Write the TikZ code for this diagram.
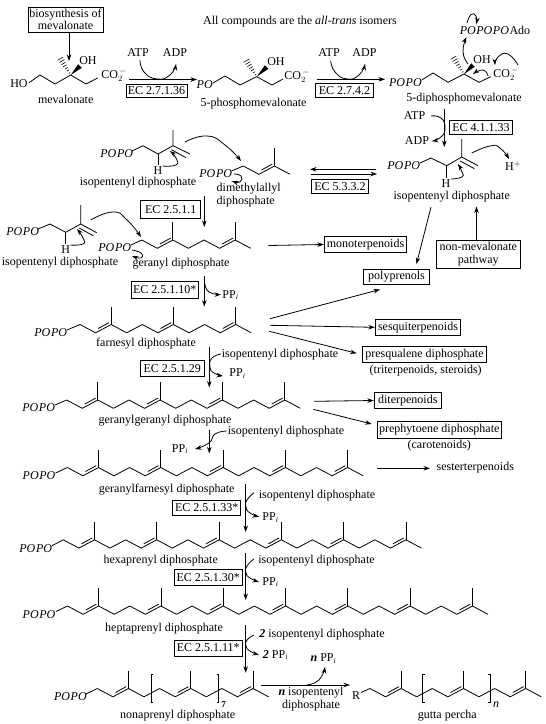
\documentclass[tikz,border=0pt]{standalone}
\usepackage{fontspec}
\setmainfont{Liberation Serif}
\usetikzlibrary{arrows.meta,calc}
\newcommand\PO{\textit{PO}\kern0.6pt}
\newcommand\PPi{PP$_{\mathit{i}}$}
\newcommand\chem[1]{\textbf{\textit{#1}}}
% isoprene chain: first high point x,y ; number of units
\newcommand\chain[3]{%
  \foreach \k in {1,...,#3}{%
    \pgfmathsetmacro\bx{#1+(\k-1)*62.3}%
    \pgfmathsetmacro\ax{\bx+15.6}\pgfmathsetmacro\cx{\bx+31.15}\pgfmathsetmacro\dx{\bx+46.7}\pgfmathsetmacro\ex{\bx+62.3}%
    \pgfmathsetmacro\yl{#2+8.3}\pgfmathsetmacro\yt{#2-18}\pgfmathsetmacro\yi{#2-1.9}\pgfmathsetmacro\yj{#2+4.0}%
    \pgfmathsetmacro\ia{\ax+2.6}\pgfmathsetmacro\ib{\cx-2.2}%
    \draw[bond] (\bx,#2) -- (\ax,\yl) -- (\cx,#2) -- (\dx,\yl);
    \draw[bond] (\cx,#2) -- (\cx,\yt);
    \draw[bond] (\ia,\yj) -- (\ib,\yi);
    \ifnum\k<#3 \draw[bond] (\dx,\yl) -- (\ex,#2);\fi
  }}
\newcommand\wdg[4]{\fill (#1,#2) -- ($(#3,#4)+(1.8,1.8)$) -- ($(#3,#4)+(-1.8,-1.8)$) -- cycle;}
\newcommand\hashbond[4]{%
  \foreach \t in {0.12,0.26,0.40,0.54,0.68,0.82,0.96}{%
    \pgfmathsetmacro\hx{#1+\t*(#3-#1)}\pgfmathsetmacro\hy{#2+\t*(#4-#2)}%
    \pgfmathsetmacro\wd{0.4+2.4*\t}%
    \draw[line width=.6pt] (\hx-\wd,\hy+\wd*0.6) -- (\hx+\wd,\hy-\wd*0.6);
  }}
\newcommand\link[3]{\coordinate (#1a) at (#2); \coordinate (#1b) at (#3); \draw[arr] (#1a) -- (#1b);}
\newcommand\curv[1]{\draw[arr] plot[smooth,tension=0.9] coordinates {#1};}
\newcommand\lbl[4]{\node[lab] (#1) at (#2,#3) {#4};}
\newcommand\tbox[6]{\node[boxn,minimum width=#4pt,minimum height=#5pt] (#1) at (#2,#3) {#6};}
\tikzset{
  bond/.style={line width=.8pt},
  arr/.style={line width=.8pt,-{Stealth[length=6.5pt,width=4.5pt]}},
  lab/.style={inner sep=0pt,align=center,font=\fontsize{12}{14}\selectfont},
  boxn/.style={draw,line width=.9pt,inner sep=0pt,align=center,font=\fontsize{12}{14}\selectfont},
}
\begin{document}
\begin{tikzpicture}[x=1pt,y=-1pt]
\useasboundingbox[fill=white] (0,0) rectangle (546,724);
% ---- header
\lbl{allc}{300}{22}{All compounds are the \textit{all-trans} isomers}
\tbox{bio}{65.5}{19.5}{75}{25}{biosynthesis of\\[-2pt]mevalonate}
\draw[arr] (bio.south -| 69,0) -- (69,61);
% ---- mevalonate
\lbl{ho}{19}{83.5}{HO}
\draw[bond] (29,82.7) -- (40,75) -- (55,84) -- (70.7,75) -- (86,84) -- (97.7,78);
\wdg{70.7}{75}{80}{66}
\hashbond{70.7}{75}{60}{58}
\lbl{oh1}{88}{61}{OH}
\lbl{co1}{114}{75}{CO$_2^{\,-}$}
\lbl{mev}{65.7}{99}{mevalonate}
% step 1
\lbl{atp1}{138}{53}{ATP}
\lbl{adp1}{175}{53}{ADP}
\link{s1}{129,79.5}{197,79.5}
\curv{(140,60) (144,72) (157,79) (170,75) (176,64)}
\tbox{ec1}{156.5}{91}{61}{12.5}{EC 2.7.1.36}
% 5-phosphomevalonate
\lbl{po1}{205}{85}{\PO}
\draw[bond] (213,83) -- (225,76) -- (240,85) -- (256.7,76.7) -- (272,85) -- (283,79);
\wdg{256.7}{76.7}{266.7}{67}
\hashbond{256.7}{76.7}{246}{60}
\lbl{oh2}{276}{62}{OH}
\lbl{co2}{297}{76}{CO$_2^{\,-}$}
\lbl{pmev}{253.5}{104}{5-phosphomevalonate}
% step 2
\lbl{atp2}{329}{53}{ATP}
\lbl{adp2}{364.5}{53}{ADP}
\link{s2}{316.7,79.3}{385,79.3}
\curv{(330.7,60.7) (335,72) (347,79) (359,75) (365,64)}
\tbox{ec2}{344.5}{90.5}{57.5}{14.5}{EC 2.7.4.2}
% 5-diphosphomevalonate
\lbl{pp3}{405.7}{82.5}{\PO\PO}
\draw[bond] (421.7,80) -- (433,73) -- (448,82.3) -- (464,74) -- (479,82.3) -- (490.7,76.7);
\wdg{464}{74}{473}{65}
\hashbond{464}{74}{453}{57}
\lbl{oh3}{482}{60}{OH}
\lbl{co3}{506}{74}{CO$_2^{\,-}$}
\lbl{dmev}{464}{99}{5-diphosphomevalonate}
\lbl{atpx}{495}{30}{\PO\PO\PO Ado}
\curv{(468,64) (463,52) (466.5,37)}
\curv{(467,23) (471,14.5) (476,16) (476.5,24)}
\curv{(518,65) (508,54) (498,57) (495,65)}
\curv{(488,76) (483,70) (473,74)}
% decarboxylation
\link{s3}{444.3,109}{444.3,147}
\lbl{atp3}{414.5}{116}{ATP}
\lbl{adp3}{417}{141}{ADP}
\curv{(431,116) (441,118) (445,128) (441,137) (432,141)}
\tbox{ec3}{481}{127.7}{63.4}{14}{EC 4.1.1.33}
% isopentenyl right
\lbl{pp4}{404}{166}{\PO\PO}
\draw[bond] (420,163) -- (431,158) -- (446.7,165.7) -- (461.7,157) -- (461.7,139);
\draw[bond] (461.7,157) -- (478,165.7);
\draw[bond] (460.2,161) -- (474.5,168.7);
\draw[bond] (446.7,165.7) -- (446.7,178);
\lbl{h1}{446}{184}{H}
\lbl{ipp1}{451.7}{197}{isopentenyl diphosphate}
\curv{(451,179) (462,177) (462,172) (458,164)}
\curv{(471.7,153) (490,146) (500,148) (509,159)}
\lbl{hp}{513}{166}{H$^+$}
% equilibrium
\link{s4}{376,169.3}{310,169.3}
\link{s5}{310.7,174}{377,174}
\tbox{ec4}{340}{186.3}{56.6}{14}{EC 5.3.3.2}
% isopentenyl middle
\lbl{pp5}{117}{154}{\PO\PO}
\draw[bond] (132,151) -- (143,145.7) -- (158,154) -- (173,145.7) -- (173,130);
\draw[bond] (173,145.7) -- (190,154);
\draw[bond] (171.5,149.7) -- (186,157.7);
\draw[bond] (158,154) -- (158,165);
\lbl{h2}{158}{170.5}{H}
\lbl{ipp2}{138}{183}{isopentenyl diphosphate}
\curv{(163,166) (176,165) (176,158) (170,151)}
\curv{(185,142) (207,136) (225,145) (241,161)}
% dimethylallyl
\lbl{pp6}{216}{174}{\PO\PO}
\draw[bond] (231.5,171) -- (243.3,166);
\chain{243.3}{166}{1}
\curv{(234,174) (241,176) (240,182) (232,181)}
\node[lab,align=left,anchor=west] (dma) at (216.5,195) {dimethylallyl\\[-0.5pt]diphosphate};
% down to geranyl
\tbox{ec5}{170.7}{209.5}{60}{17.6}{EC 2.5.1.1}
\link{s6}{204.3,196}{204.3,227}
% isopentenyl left
\lbl{pp7}{23}{232}{\PO\PO}
\draw[bond] (38,229) -- (50,224) -- (65.7,232.3) -- (80.7,224) -- (80.7,205);
\draw[bond] (80.7,224) -- (96.7,232.7);
\draw[bond] (79.2,228) -- (93.5,235.9);
\draw[bond] (65.7,232.3) -- (65.7,244);
\lbl{h3}{65.7}{249.5}{H}
\lbl{ipp3}{60}{263}{isopentenyl diphosphate}
\curv{(70.5,245) (83,244) (83,238) (77,229)}
\curv{(90.7,220) (113,212) (127,220) (141,237)}
% geranyl
\lbl{pp8}{115}{248}{\PO\PO}
\draw[bond] (131,245) -- (141.7,240);
\chain{141.7}{240}{2}
\curv{(132,250) (141,253) (141,258) (132,256)}
\lbl{ger}{181}{263.3}{geranyl diphosphate}
\tbox{mono}{365.5}{244.5}{82.4}{15.6}{monoterpenoids}
\link{s7}{268.3,245.5}{mono.west}
% non-mevalonate
\tbox{nonm}{478.3}{254.5}{84}{27.6}{non-mevalonate\\[-1pt]pathway}
\coordinate (nmtop) at (476.5,206.5);
\draw[arr] (nonm.north -| nmtop) -- (nmtop);
\tbox{poly}{396.5}{276.8}{65.6}{15}{polyprenols}
\coordinate (ipl) at (431,207);
\draw[arr] (ipl) -- (416.5,264);
% farnesyl
\tbox{ec6}{164.7}{290}{67.3}{16.6}{EC 2.5.1.10*}
\link{s8}{204.3,276}{204.3,306.7}
\curv{(205,284) (209,292) (221,294.5)}
\lbl{ppi1}{230.5}{295}{\PPi}
\lbl{pp9}{51}{333}{\PO\PO}
\draw[bond] (67,330) -- (80,324.5);
\chain{80}{324.5}{3}
\lbl{far}{146}{344}{farnesyl diphosphate}
\link{s9}{270,318.7}{380,289.5}
\tbox{sesq}{418}{327.3}{85.4}{16}{sesquiterpenoids}
\link{s10}{270,325.3}{sesq.west}
\tbox{presq}{424.5}{354.5}{124.4}{15.6}{presqualene diphosphate}
\link{s11}{269.3,331.3}{356.7,353.3}
\lbl{tri}{425.7}{371}{(triterpenoids, steroids)}
% geranylgeranyl
\lbl{ipp4}{280}{355}{isopentenyl diphosphate}
\tbox{ec7}{172.3}{368.7}{63.4}{16}{EC 2.5.1.29}
\link{s12}{209.3,347}{209.3,387.5}
\curv{(221,354) (212,358) (210,367) (214,373) (223,376)}
\lbl{ppi2}{237.5}{373.5}{\PPi}
\lbl{pp10}{39}{407.7}{\PO\PO}
\draw[bond] (55,405) -- (66.7,400);
\chain{66.7}{400}{4}
\lbl{gg}{165}{420.7}{geranylgeranyl diphosphate}
\tbox{dit}{407.8}{400.5}{67}{15.6}{diterpenoids}
\link{s13}{314,401.3}{dit.west}
\tbox{preph}{439.3}{429.8}{124}{17}{prephytoene diphosphate}
\link{s14}{313.3,409.3}{371.7,424}
\lbl{car}{439.3}{446}{(carotenoids)}
% geranylfarnesyl
\link{s15}{209.3,430}{209.3,453.5}
\lbl{ipp5}{286}{431.5}{isopentenyl diphosphate}
\curv{(226.7,431) (215,434) (209,443) (195,449)}
\lbl{ppi3}{180}{449}{\PPi}
\lbl{pp11}{39.3}{475.7}{\PO\PO}
\draw[bond] (55.5,473) -- (67.3,467.5);
\chain{67.3}{467.5}{5}
\lbl{gf}{166.7}{489.3}{geranylfarnesyl diphosphate}
\link{s16}{377.3,468.3}{430,468.3}
\lbl{sester}{475.3}{467.3}{sesterterpenoids}
% hexaprenyl
\link{s17}{245.7,484.3}{245.7,532}
\tbox{ec8}{206.7}{507.8}{68}{15.6}{EC 2.5.1.33*}
\lbl{ipp6}{317}{495.5}{isopentenyl diphosphate}
\curv{(254,492.7) (247,500) (246,507) (250,513) (259,516.7)}
\lbl{ppi4}{270.5}{517.5}{\PPi}
\lbl{pp12}{36}{548.3}{\PO\PO}
\draw[bond] (52,545.7) -- (63.3,539.8);
\chain{63.3}{539.8}{6}
\lbl{hex}{160.7}{561}{hexaprenyl diphosphate}
% heptaprenyl
\link{s18}{245.7,552.7}{245.7,600}
\tbox{ec9}{208.3}{577.5}{68}{16.4}{EC 2.5.1.30*}
\lbl{ipp7}{316.5}{560.5}{isopentenyl diphosphate}
\curv{(254,559) (247,566) (246,573) (250,578) (259,582)}
\lbl{ppi5}{270.5}{582}{\PPi}
\lbl{pp13}{39.3}{614.3}{\PO\PO}
\draw[bond] (56,611.5) -- (67.5,606);
\chain{67.5}{606}{7}
\lbl{hep}{164}{629}{heptaprenyl diphosphate}
% nonaprenyl
\link{s19}{245.7,625}{245.7,672.7}
\tbox{ec10}{208.3}{648}{68}{16}{EC 2.5.1.11*}
\lbl{ipp8}{322}{634.3}{\chem{2} isopentenyl diphosphate}
\curv{(254,635) (247,640) (246,646) (250,651) (259,655)}
\lbl{ppi6}{275.5}{655}{\chem{2} \PPi}
\lbl{pp14}{70.7}{696.7}{\PO\PO}
\draw[bond] (86,694) -- (97.3,688.5);
\chain{97.3}{688.5}{3}
\draw[bond] (153,674.5) -- (151,674.5) -- (151,702.5) -- (153,702.5);
\draw[bond] (216.5,674.5) -- (218.5,674.5) -- (218.5,702.5) -- (216.5,702.5);
\node[lab,font=\fontsize{9}{10}\selectfont\bfseries] (sev) at (223.5,705) {7};
\lbl{non}{177.7}{715.3}{nonaprenyl diphosphate}
% gutta percha
\link{s20}{261,685}{350,685}
\lbl{nipp}{311}{699}{\chem{n} isopentenyl\\[-1.5pt]diphosphate}
\curv{(306.7,685) (319,680) (325,667)}
\lbl{nppi}{323.5}{658.5}{\chem{n} \PPi}
\lbl{rr}{356}{696}{R}
\draw[bond] (361,692.5) -- (370,688.5);
\chain{370}{688.5}{3}
\draw[bond] (424.5,674.5) -- (422.3,674.5) -- (422.3,702.5) -- (424.5,702.5);
\draw[bond] (488,674.5) -- (490,674.5) -- (490,702.5) -- (488,702.5);
\lbl{nn}{496}{705}{\textit{n}}
\lbl{gut}{447.3}{715.7}{gutta percha}
\end{tikzpicture}
\end{document}
